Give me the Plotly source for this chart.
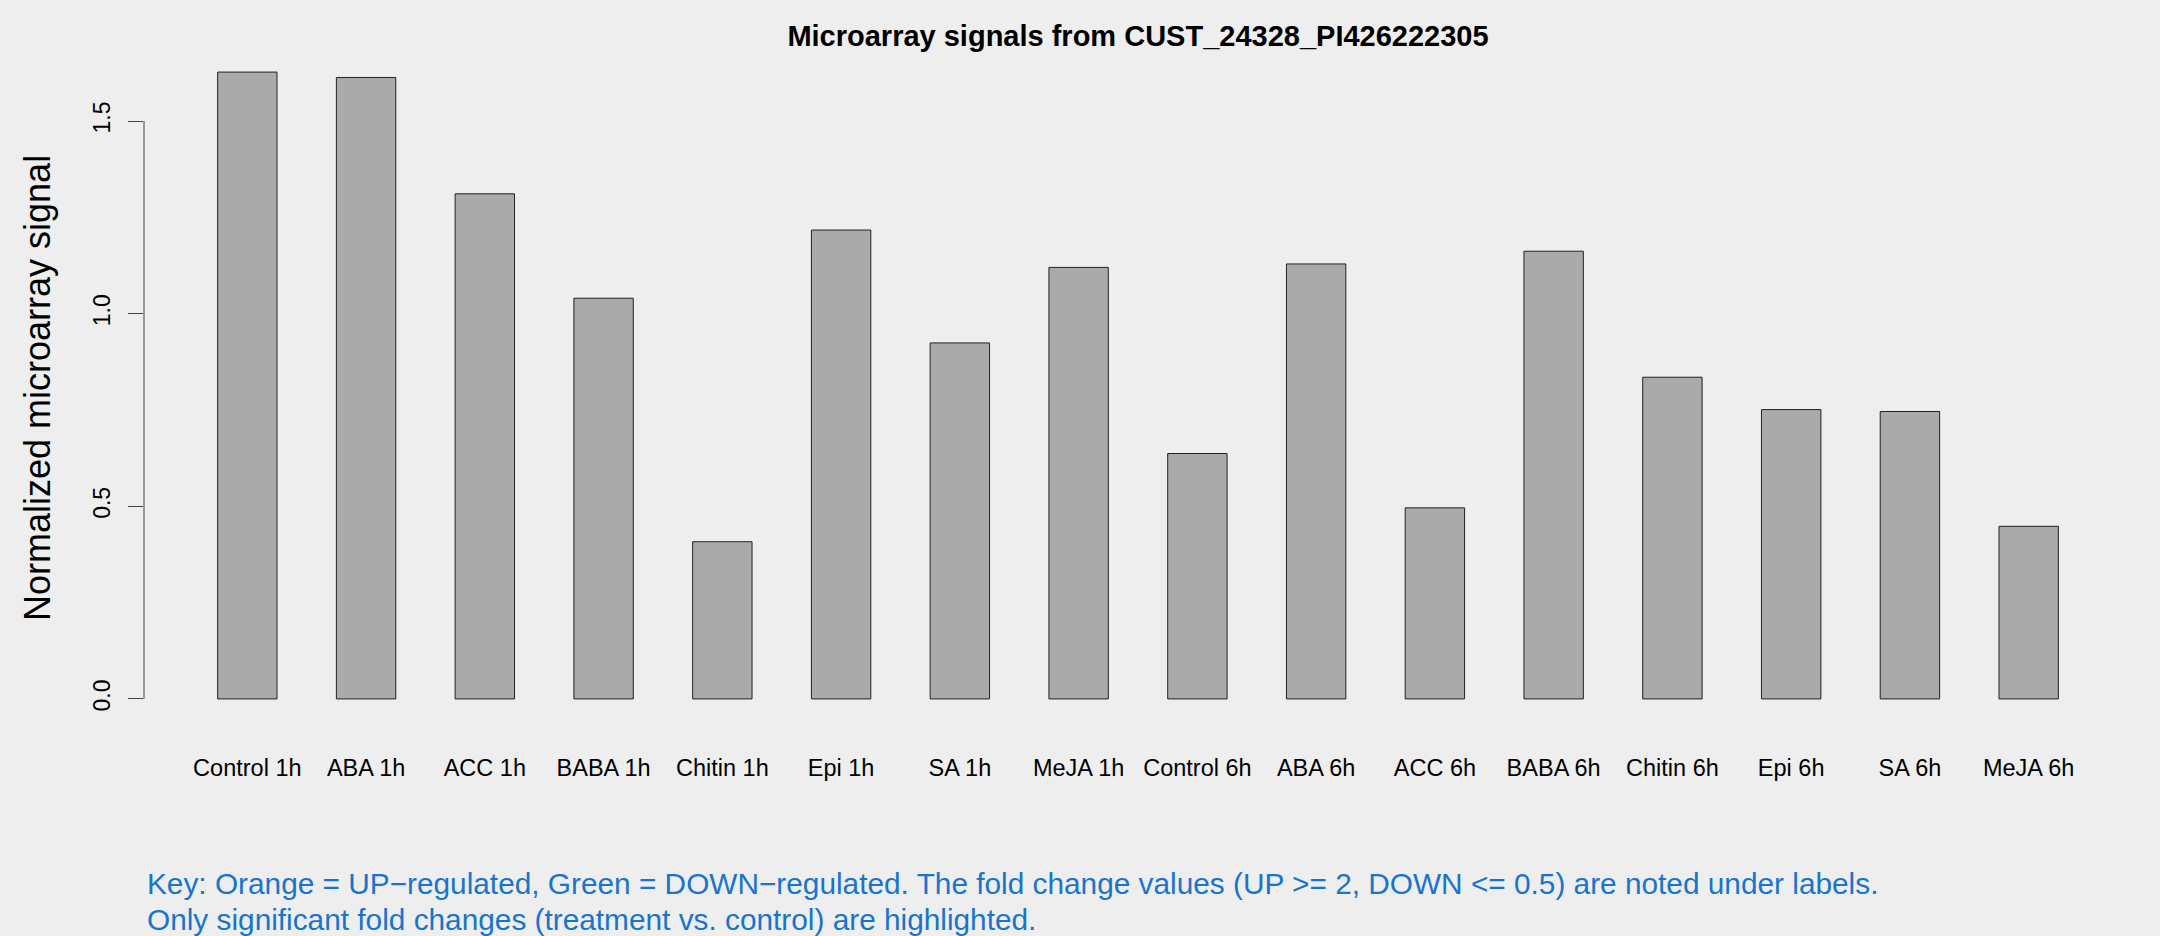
import plotly.graph_objects as go

categories = ["Control 1h", "ABA 1h", "ACC 1h", "BABA 1h", "Chitin 1h", "Epi 1h", "SA 1h", "MeJA 1h",
              "Control 6h", "ABA 6h", "ACC 6h", "BABA 6h", "Chitin 6h", "Epi 6h", "SA 6h", "MeJA 6h"]
signal = [1.627, 1.613, 1.311, 1.040, 0.408, 1.217, 0.924, 1.120,
          0.637, 1.129, 0.496, 1.162, 0.835, 0.751, 0.746, 0.448]
y_ticks = [0.0, 0.5, 1.0, 1.5]
y_tick_labels = ["0.0", "0.5", "1.0", "1.5"]

title_text = "Microarray signals from CUST_24328_PI426222305"
y_title = "Normalized microarray signal"
key_line1 = "Key: Orange = UP\u2212regulated, Green = DOWN\u2212regulated. The fold change values (UP >= 2, DOWN <= 0.5) are noted under labels."
key_line2 = "Only significant fold changes (treatment vs. control) are highlighted."

W, H = 2160, 936
L, R, T, B = 144, 28, 47, 212
plot_h = H - T - B

def py(p):
    return (H - B - p) / plot_h

FONT = "Liberation Sans, Arial, Helvetica, sans-serif"
ymax = max(signal) * 1.04
ymin = -max(signal) * 0.04

fig = go.Figure()
fig.add_trace(go.Bar(
    x=categories, y=signal,
    marker=dict(color="#AAAAAA", line=dict(color="#222222", width=1)),
    showlegend=False, hoverinfo="x+y",
))

# y axis line only over the tick span (as in base R)
fig.add_shape(type="line", xref="paper", yref="y", x0=0, x1=0,
              y0=y_ticks[0], y1=y_ticks[-1], line=dict(color="#444444", width=1))

fig.update_layout(
    width=W, height=H,
    margin=dict(l=L, r=R, t=T, b=B, pad=0),
    paper_bgcolor="#EEEEEE", plot_bgcolor="#EEEEEE",
    bargap=0.5,
    font=dict(family=FONT, color="black", size=23.5),
    title=dict(text=title_text, x=1138 / W, xanchor="center", xref="container",
               y=1 - 36 / H, yanchor="middle", yref="container",
               font=dict(family=FONT, size=29, color="black", weight="bold")),
    xaxis=dict(range=[-0.87, 15.87], showgrid=False, zeroline=False, showline=False,
               ticks="", tickangle=0, ticklabelstandoff=27,
               tickfont=dict(family=FONT, size=23.5, color="black")),
    yaxis=dict(range=[ymin, ymax], showgrid=False, zeroline=False, showline=False,
               tickvals=y_ticks, ticktext=y_tick_labels, ticks="outside", ticklen=15,
               tickcolor="#444444", tickwidth=1, tickangle=-90, ticklabelstandoff=9,
               tickfont=dict(family=FONT, size=23, color="black")),
    annotations=[
        dict(text=y_title, textangle=-90, xref="paper", yref="paper",
             x=(38 - L) / (W - L - R), y=py(388), xanchor="center", yanchor="middle",
             showarrow=False, font=dict(family=FONT, size=36, color="black")),
        dict(text=key_line1, xref="paper", yref="paper", x=(145 - L) / (W - L - R),
             y=py(883), xanchor="left", yanchor="middle", showarrow=False,
             font=dict(family=FONT, size=29.8, color="#1874CD")),
        dict(text=key_line2, xref="paper", yref="paper", x=(145 - L) / (W - L - R),
             y=py(919), xanchor="left", yanchor="middle", showarrow=False,
             font=dict(family=FONT, size=29.8, color="#1874CD")),
    ],
)

fig.write_html("out.html", config={"displayModeBar": False},
               post_script="document.body.style.margin='0';document.body.style.overflow='hidden';")
